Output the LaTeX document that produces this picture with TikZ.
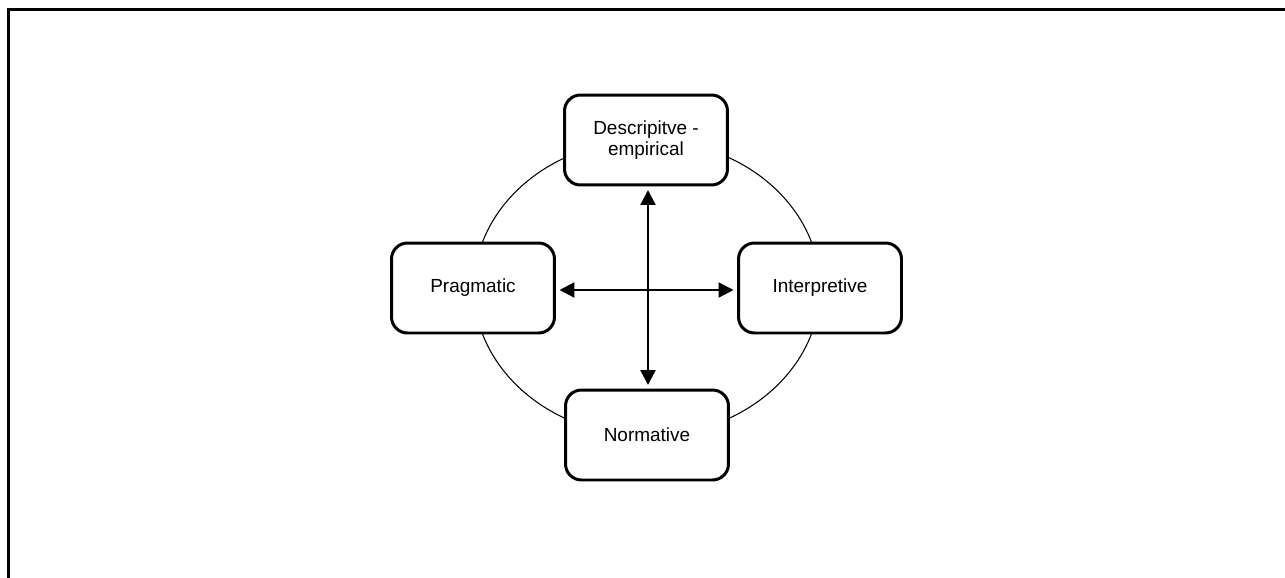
\documentclass[tikz,border=0pt]{standalone}
\usepackage{fontspec}
\setmainfont{Liberation Sans}
\usetikzlibrary{arrows.meta}

\begin{document}
\begin{tikzpicture}[
  x=0.02cm, y=-0.02cm,
  >={Triangle[length=0.3cm, width=0.3cm]},
  box/.style={draw, line width=1.7pt, rounded corners=0.32cm, fill=white,
    minimum width=3.26cm, minimum height=1.8cm, align=center,
    font=\fontsize{10.8}{11.6}\selectfont},
  link/.style={<->, line width=1.3pt, shorten <=2pt, shorten >=2pt}]
  \useasboundingbox (0,0) rectangle (1285,578);
  \draw[line width=1.7pt] (8.5,578) -- (8.5,9.8) -- (1285,9.8);
  \coordinate (c) at (647,288);
  \draw[line width=0.6pt] (c) ellipse [x radius=3.46cm, y radius=2.96cm];
  \node[box] (desc)   at (646,140) {Descripitve -\\empirical};
  \node[box] (prag)   at (473,288) {Pragmatic};
  \node[box] (interp) at (820,288) {Interpretive};
  \node[box] (norm)   at (647,435) {Normative};
  \draw[link] (desc.south -| 648,0) -- (norm.north -| 648,0);
  \draw[link] (prag.east |- 0,290) -- (interp.west |- 0,290);
\end{tikzpicture}
\end{document}
